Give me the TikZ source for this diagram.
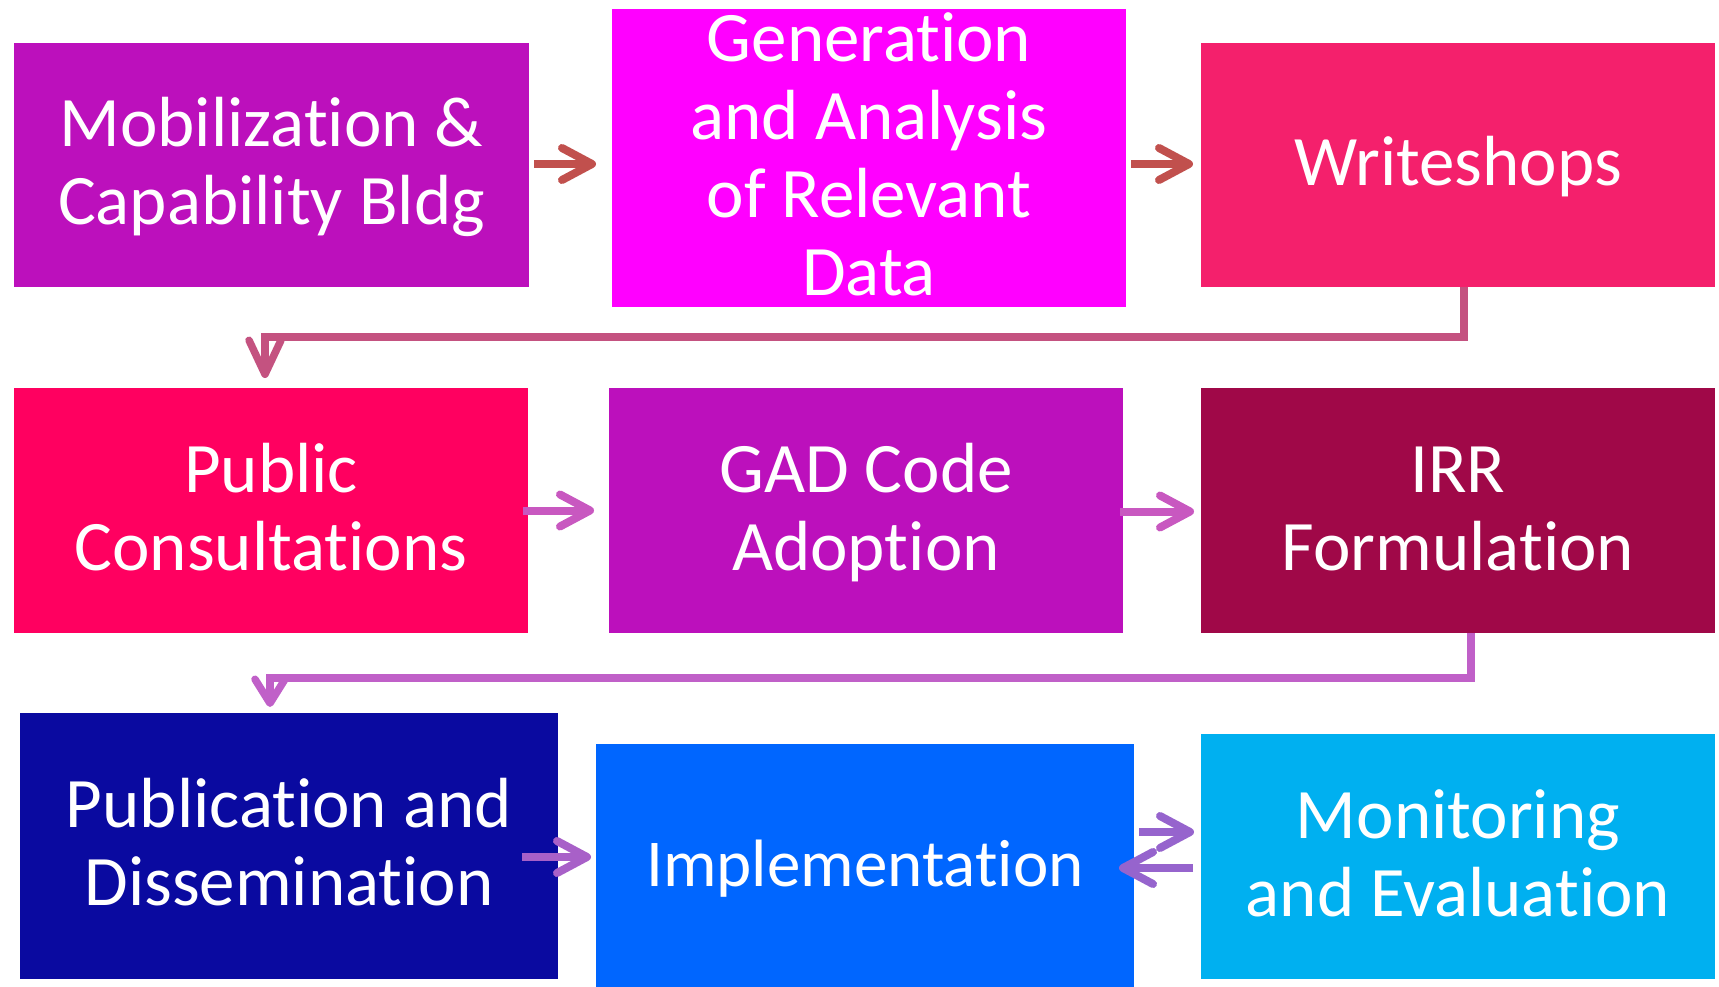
\documentclass[tikz,border=0pt]{standalone}
\usepackage{fontspec}
\setmainfont{Carlito}[Ligatures={NoCommon}]
\usetikzlibrary{arrows.meta,calc}

\definecolor{cPurple}{RGB}{188,16,188}
\definecolor{cMagenta}{RGB}{255,0,255}
\definecolor{cPink}{RGB}{244,32,108}
\definecolor{cRose}{RGB}{255,0,96}
\definecolor{cWine}{RGB}{160,8,72}
\definecolor{cNavy}{RGB}{10,10,160}
\definecolor{cBlue}{RGB}{0,102,255}
\definecolor{cSky}{RGB}{0,176,240}
\definecolor{aBrick}{RGB}{193,80,77}
\definecolor{aRose}{RGB}{196,82,128}
\definecolor{aOrchid}{RGB}{200,88,192}
\definecolor{aViolet}{RGB}{192,96,200}
\definecolor{aLilac}{RGB}{168,96,200}
\definecolor{aIris}{RGB}{150,100,205}

% one text line: 78pt tall, baseline 59.5pt below its top
\newcommand\lnstrut{\rule[-18.5pt]{0pt}{78pt}}

\tikzset{
  stepbox/.style={draw=none, inner sep=0pt, outer sep=0pt},
  boxtext/.style={inner sep=0pt, text=white, align=center,
    font=\fontsize{71}{78}\selectfont},
  flow/.style={line width=8pt, -{Straight Barb[length=30pt,width=32pt,round]}},
  elbow/.style={line width=7.5pt, line join=miter},
}

\begin{document}
\begin{tikzpicture}[x=1pt,y=-1pt]
\useasboundingbox (0,0) rectangle (1719,987);

% boxes
\node[stepbox, fill=cPurple,  minimum width=515, minimum height=244] (b1) at (271.5,165) {};
\node[stepbox, fill=cMagenta, minimum width=514, minimum height=298] (b2) at (869,158) {};
\node[stepbox, fill=cPink,    minimum width=514, minimum height=244] (b3) at (1458,165) {};
\node[stepbox, fill=cRose,    minimum width=514, minimum height=245] (b4) at (271,510.5) {};
\node[stepbox, fill=cPurple,  minimum width=514, minimum height=245] (b5) at (866,510.5) {};
\node[stepbox, fill=cWine,    minimum width=514, minimum height=245] (b6) at (1458,510.5) {};
\node[stepbox, fill=cNavy,    minimum width=538, minimum height=266] (b7) at (289,846) {};
\node[stepbox, fill=cBlue,    minimum width=538, minimum height=243] (b8) at (865,865.5) {};
\node[stepbox, fill=cSky,     minimum width=514, minimum height=245] (b9) at (1458,856.5) {};

% labels
\node[boxtext] (t1) at (b1) {\lnstrut Mobilization \&\\\lnstrut Capability Bldg};
\node[boxtext] (t2) at (b2) {\lnstrut Generation\\\lnstrut and Analysis\\\lnstrut of Relevant\\\lnstrut Data};
\node[boxtext] (t3) at (b3) {\lnstrut Writeshops};
\node[boxtext] (t4) at (b4) {\lnstrut Public\\\lnstrut Consultations};
\node[boxtext] (t5) at (b5) {\lnstrut GAD Code\\\lnstrut Adoption};
\node[boxtext] (t6) at (b6) {\lnstrut IRR\\\lnstrut Formulation};
\node[boxtext] (t7) at (b7) {\lnstrut Publication and\\\lnstrut Dissemination};
\node[boxtext, font=\fontsize{67}{78}\selectfont] (t8) at (b8) {\lnstrut Implementation};
\node[boxtext] (t9) at (b9) {\lnstrut Monitoring\\\lnstrut and Evaluation};

% straight arrows within rows
\draw[flow, aBrick] ($(b1.east)+(5,-1)$) -- ($(b1.east -| b2.west)+(-16,-1)$);
\draw[flow, aBrick] ($(b3.west -| b2.east)+(5,-1)$) -- ($(b3.west)+(-8,-1)$);
\draw[flow, aOrchid] ($(b4.east)+(-5,0)$) -- ($(b4.east -| b5.west)+(-15,0)$);
\draw[flow, aOrchid] ($(b5.east)+(-3,1)$) -- ($(b5.east -| b6.west)+(-7,1)$);
\draw[flow, aLilac] ($(b7.east)+(-36,11)$) -- ($(b8.west)+(-5,-8.5)$);
\draw[flow, aIris] ($(b8.east)+(5,-33.5)$) -- ($(b9.west)+(-7,-24.5)$);
\draw[flow, aIris] ($(b9.west)+(-8,11.5)$) -- ($(b8.east)+(-15,2.5)$);

% elbow connectors between rows
\draw[elbow, aRose, -{Straight Barb[length=34pt,width=32pt,round]}]
  ($(b3.south)+(6,0)$) -- ++(0,50) -| ($(b4.north)+(-6,-10)$);
\draw[elbow, aViolet, -{Straight Barb[length=24pt,width=30pt,round]}]
  ($(b6.south)+(13,0)$) -- ++(0,45) -| ($(b7.north)+(-19,-6)$);
\end{tikzpicture}
\end{document}
